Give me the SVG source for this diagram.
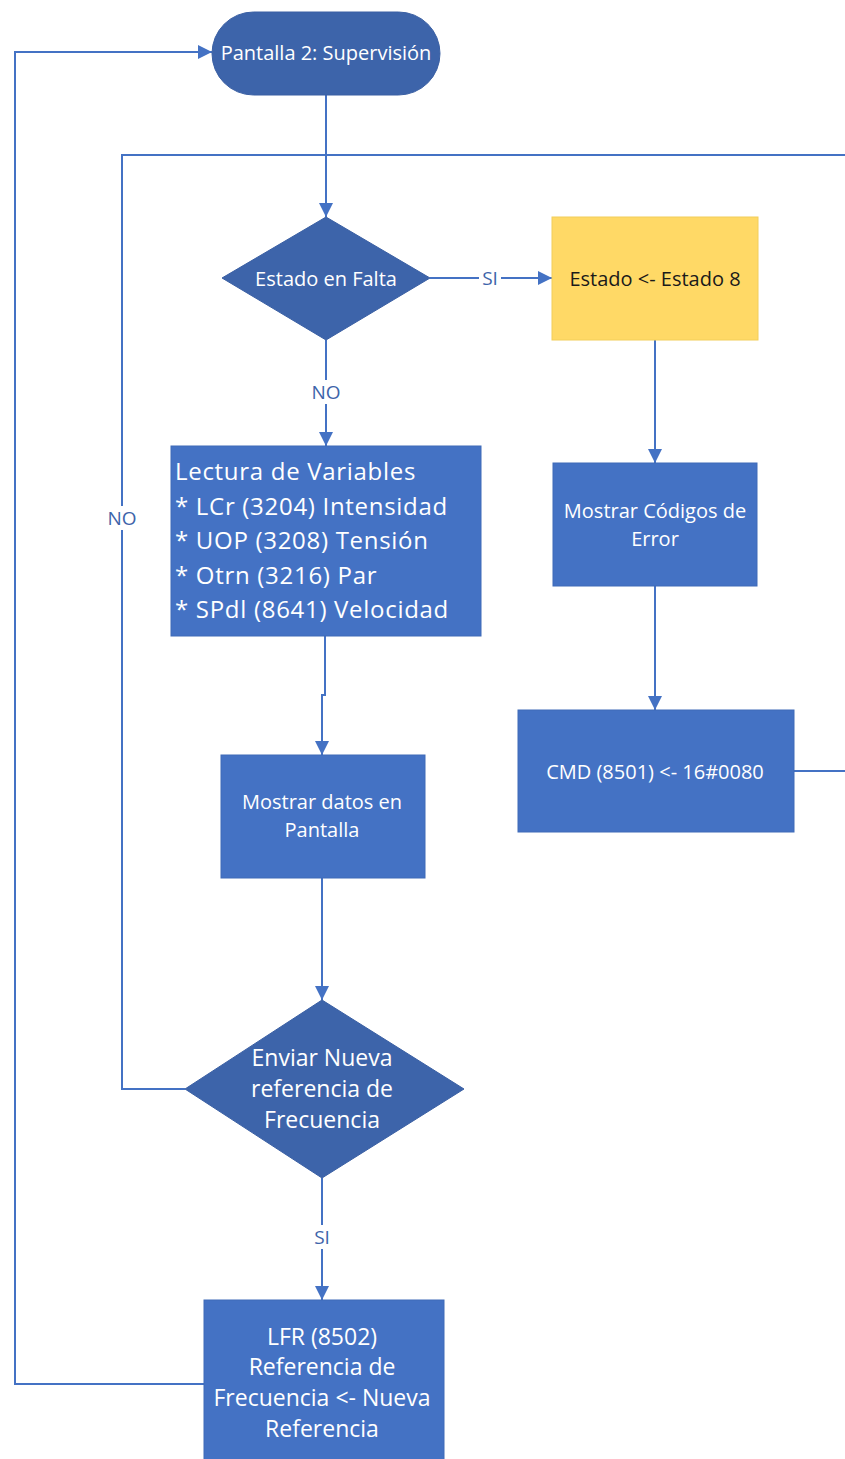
<svg xmlns="http://www.w3.org/2000/svg" width="845" height="1459" viewBox="0 0 845 1459">
  <defs>
    <marker id="arrow" viewBox="0 0 10 10" refX="10" refY="5" markerWidth="7" markerHeight="7" orient="auto" markerUnits="strokeWidth">
      <path d="M0,0 L10,5 L0,10 z" fill="#4472c4"/>
    </marker>
    <style>
      .dark { fill: #3d64aa; stroke: #3a5fa3; stroke-width: 1; }
      .box { fill: #4472c4; stroke: #3f6bb8; stroke-width: 1; }
      .warn { fill: #ffd966; stroke: #f2ce5a; stroke-width: 1; }
      .wire { fill: none; stroke: #4472c4; stroke-width: 2; }
      .t { font-family: "Open Sans", "Noto Sans", sans-serif; fill: #ffffff; font-size: 20px; text-anchor: middle; dominant-baseline: central; }
      .big { font-size: 23px; }
      .dk { fill: #1a1a1a; }
      .lbl { font-family: "Open Sans", "Noto Sans", sans-serif; fill: #3d64aa; font-size: 19px; text-anchor: middle; dominant-baseline: central; }
      .lead { font-family: "Open Sans", "Noto Sans", sans-serif; fill: #ffffff; font-size: 24px; letter-spacing: 0.7px; }
    </style>
  </defs>

  <rect width="845" height="1459" fill="#ffffff"/>

  <!-- connectors -->
  <g id="connectors">
    <path class="wire" d="M326,95 V217" marker-end="url(#arrow)"/>
    <path class="wire" d="M430,278 H552" marker-end="url(#arrow)"/>
    <path class="wire" d="M655,340 V463" marker-end="url(#arrow)"/>
    <path class="wire" d="M655,586 V710" marker-end="url(#arrow)"/>
    <path class="wire" d="M794,771 H845"/>
    <path class="wire" d="M326,340 V446" marker-end="url(#arrow)"/>
    <path class="wire" d="M325,636 V695 H322 V755" marker-end="url(#arrow)"/>
    <path class="wire" d="M322,878 V1000" marker-end="url(#arrow)"/>
    <path class="wire" d="M185,1089 H122 V155 H845"/>
    <path class="wire" d="M322,1178 V1300" marker-end="url(#arrow)"/>
    <path class="wire" d="M204,1384 H15 V52 H212" marker-end="url(#arrow)"/>

    <rect x="479" y="266" width="22" height="24" fill="#ffffff"/>
    <text class="lbl" x="490" y="278">SI</text>
    <rect x="309" y="380" width="34" height="24" fill="#ffffff"/>
    <text class="lbl" x="326" y="392">NO</text>
    <rect x="105" y="506" width="34" height="24" fill="#ffffff"/>
    <text class="lbl" x="122" y="518">NO</text>
    <rect x="311" y="1225" width="22" height="24" fill="#ffffff"/>
    <text class="lbl" x="322" y="1237">SI</text>
  </g>

  <!-- start: screen 2 -->
  <g id="inicio">
    <rect class="dark" x="212" y="12" width="228" height="83" rx="41.5" ry="41.5"/>
    <text class="t" x="326" y="52">Pantalla 2: Supervisión</text>
  </g>

  <!-- fault check -->
  <g id="estado-falta">
    <polygon class="dark" points="326,217 430,278 326,340 222,278"/>
    <text class="t" x="326" y="278">Estado en Falta</text>
  </g>

  <g id="estado-8">
    <rect class="warn" x="552" y="217" width="206" height="123"/>
    <text class="t dk" x="655" y="278">Estado &lt;- Estado 8</text>
  </g>

  <g id="codigos-error">
    <rect class="box" x="553" y="463" width="204" height="123"/>
    <text class="t" x="655" y="510">Mostrar Códigos de</text>
    <text class="t" x="655" y="538">Error</text>
  </g>

  <g id="cmd">
    <rect class="box" x="518" y="710" width="276" height="122"/>
    <text class="t" x="655" y="771">CMD (8501) &lt;- 16#0080</text>
  </g>

  <!-- variable readout -->
  <g id="lectura">
    <rect class="box" x="171" y="446" width="310" height="190"/>
    <text class="lead" x="175" y="480">Lectura de Variables</text>
    <text class="lead" x="175" y="515">* LCr (3204) Intensidad</text>
    <text class="lead" x="175" y="549">* UOP (3208) Tensión</text>
    <text class="lead" x="175" y="584">* Otrn (3216) Par</text>
    <text class="lead" x="175" y="618">* SPdl (8641) Velocidad</text>
  </g>

  <g id="mostrar-datos">
    <rect class="box" x="221" y="755" width="204" height="123"/>
    <text class="t" x="322" y="801">Mostrar datos en</text>
    <text class="t" x="322" y="829">Pantalla</text>
  </g>

  <g id="enviar-referencia">
    <polygon class="dark" points="322,1000 464,1089 322,1178 185,1089"/>
    <text class="t big" x="322" y="1057">Enviar Nueva</text>
    <text class="t big" x="322" y="1088">referencia de</text>
    <text class="t big" x="322" y="1119">Frecuencia</text>
  </g>

  <g id="lfr">
    <rect class="box" x="204" y="1300" width="240" height="170"/>
    <text class="t big" x="322" y="1336">LFR (8502)</text>
    <text class="t big" x="322" y="1366">Referencia de</text>
    <text class="t big" x="322" y="1397">Frecuencia &lt;- Nueva</text>
    <text class="t big" x="322" y="1428">Referencia</text>
  </g>
</svg>
